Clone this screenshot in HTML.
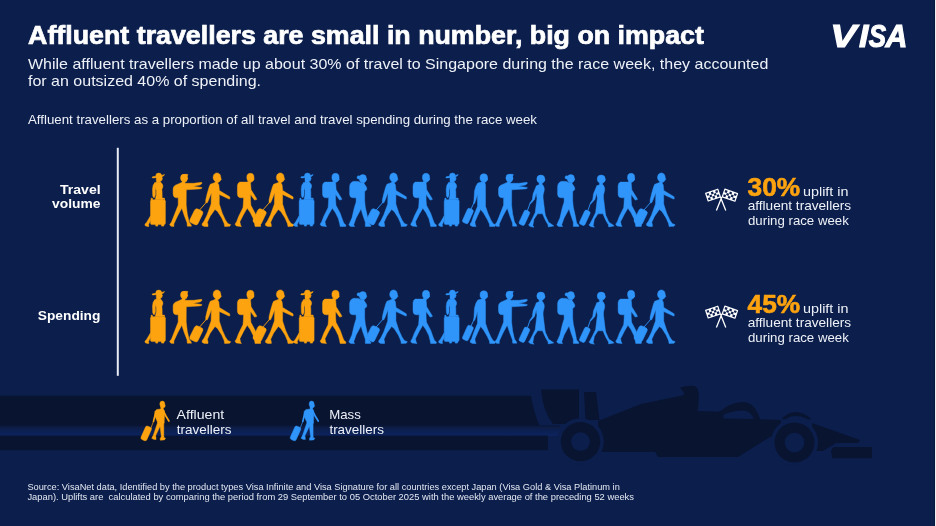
<!DOCTYPE html>
<html><head><meta charset="utf-8"><title>Affluent travellers</title>
<style>
html,body{margin:0;padding:0;background:#0b1e4c;overflow:hidden}
svg{display:block}
text{font-family:"Liberation Sans",Arial,sans-serif}
</style></head>
<body>
<svg width="936" height="526" viewBox="0 0 936 526">
<defs>

<g id="fA">
 <path d="M-3,4.4 Q-3,1 0,1 Q3,1 3,4 Z"/>
 <path d="M-6.6,5.7 Q-6.8,4.7 -5.3,4.6 L-3.2,4.3 L2.8,3.4 Q4.6,2.9 5.8,2.4 Q5.7,3.5 4.3,4.3 L2.8,5 L-3.2,5.7 Q-5.6,6.2 -6.6,5.7 Z"/>
 <path d="M-2.4,4.5 L3.2,4.5 L3.4,6 L3.9,6.9 L3.3,7.4 L3.2,8.5 L1.8,9 L1.8,10.8 L-2.2,10.8 L-2.4,8.5 Z"/>
 <path d="M-3.9,10.5 L2.4,10.5 Q4.3,12.5 4.2,14.5 Q4,16 3.2,17.2 L3.4,20 L3.5,27.8 L-3.5,27.8 L-2.4,23 L-2.4,18.5 L-3.6,14 Z"/>
 <path d="M-3.9,10.8 Q-6.4,13 -6.2,17 L-6,23.6 Q-5.6,25.8 -4.4,25.8 L-3.3,23 L-3.3,18.5 L-2.8,14 Z"/>
 <rect x="-8.2" y="27.7" width="14.9" height="24.9" rx="1.5"/>
 <rect x="-7.6" y="26.1" width="1.3" height="2"/>
 <path d="M3.4,26.1 H5.8 V27.9 H5.1 V27.1 H3.9 V27.9 H3.4 Z"/>
 <rect x="-3" y="52" width="2.1" height="2.1"/>
 <rect x="2.8" y="52" width="2.4" height="2.1"/>
 <path d="M-8.2,43.8 L-12,50.2 L-13.8,52.2 L-13.5,53.7 L-11.5,54.4 L-9.8,54.4 L-10.1,52.4 L-8.2,48.6 Z"/>
</g>
<g id="fB">
 <ellipse cx="-0.4" cy="6" rx="3.5" ry="3.7"/>
 <path d="M-3.2,3.4 Q-1,2 2,2.3 L3.6,2.4 L2.8,4.4 Z"/>
 <path d="M-2,9.6 L1.9,9.6 L2.4,8 L3.3,6.4 L2.4,5 Z"/>
 <path d="M-2.7,10.4 L-9,13.2 Q-11.3,14.4 -11.3,17 L-11.3,21.8 Q-11.3,25.8 -7.8,25.8 L-6.2,25.8 L-6.2,33.1 L-10.5,44 L-12.9,50.1 L-14.8,52.6 L-13.5,54.2 L-10.5,54.4 L-10.5,52 L-6.8,44 L-2.6,36.2 L0,44 L2.6,50.7 L2.9,54.2 L7.1,54.2 L6.5,52.6 L4.7,50.1 L2.9,42.2 L1.8,33 L1.9,17.8 L15.5,16.9 L17.3,16.4 L17.5,15.6 L15.6,15.2 L8.6,14.3 L15.6,12.9 L17.5,11.6 L17.3,10.3 L9.3,11.3 L0.7,11.3 L0.7,9.3 L-2.1,9.3 Z"/>
</g>
<g id="fC">
 <ellipse cx="-0.35" cy="5.4" rx="3.85" ry="4.5"/>
 <path d="M-1,9.6 L1.5,10.3 L3,8.8 L3.5,8 L4.1,7.4 L3.4,5.8 Z"/>
 <path d="M-2.2,10.4 L-7,12.3 L-8.2,15.1 L-10.2,22 L-11.6,28 L-11.6,30.8 L-10,30.8 L-8.7,28 L-5.9,20.8 L-6.2,32 L-10.2,43 L-13.2,49.1 L-15.3,52.1 L-15,53.5 L-13,54.4 L-9.3,54.5 L-9.3,52.7 L-9.9,50.3 L-7.1,44.2 L-2.3,37.5 L0.2,39.4 L4.4,46 L6.8,51.5 L7.4,54.6 L12.3,54.3 L13.5,52.7 L10.5,51.5 L8.1,47.9 L5,41.2 L2,32 L2,22.5 L11.8,27.1 L12.6,26.8 L12.4,24.8 L2.1,18.5 L1.5,12.8 L0.4,11.1 L0.95,9.6 L-2.2,9.6 Z"/>
 <rect x="-4.5" y="-7.7" width="9" height="15.4" rx="2.5" transform="translate(-21,44.8) rotate(26)"/>
 <path d="M-17.6,37.9 L-10.9,30.2" fill="none" stroke="currentColor" stroke-linecap="round" stroke-linejoin="round" stroke-width="0.9"/>
</g>
<g id="fD">
 <ellipse cx="0.1" cy="5.5" rx="3.6" ry="4.2"/>
 <path d="M-1,9.2 L1.5,9.8 L3,8.5 L3.7,7.3 L3.1,5.8 Z"/>
 <path d="M-2.6,10.1 L-10.6,10.1 Q-12.9,11 -12.9,14 L-12.9,21.8 Q-12.9,25.8 -9.5,25.8 L-6.7,25.8 L-7,32 L-7.35,35.7 L-11.6,44.2 L-13.7,49.7 L-15.3,52.2 L-14,54 L-8.9,54.6 L-9.8,52.8 L-10.4,49.7 L-6.7,42.4 L-3.1,36.3 L-0.05,40.6 L3,46.7 L4.2,51.5 L4.8,54.6 L10.3,54.4 L10.5,53 L8.5,51.3 L7.2,47.9 L4.8,41.2 L0.6,33.3 L0.2,28 L0.2,22.4 L4.2,28.1 L6.4,27.6 L6.2,26.4 L0.8,17.8 L0.2,10.4 L0.8,10.4 L0.8,9.3 L-2.6,9.3 Z"/>
</g>
<g id="fE">
 <ellipse cx="-0.2" cy="6.5" rx="3.6" ry="3.9"/>
 <circle cx="-4.3" cy="5.4" r="1.7"/>
 <path d="M-1,10 L1.2,10.4 L2.8,9 L3.7,7.6 L3,6.2 Z"/>
 <path d="M-2.3,10.6 L-4.6,9.4 L-9.2,9.3 Q-13.4,10.5 -13.4,15 L-13.4,22 Q-13.4,25.8 -10,25.8 L-6.9,25.8 L-6.9,30 L-8.7,35.7 L-11.1,46.1 L-13.6,51.6 L-14.2,53 L-12.3,54.6 L-8.4,54.6 L-9.3,52.8 L-6.9,46.1 L-2,37 L-0.2,43 L2.3,50.3 L2.3,54.4 L7.8,54.4 L7.8,53.2 L5.6,51 L5.3,49.1 L4.1,43 L2.3,35.1 L1.7,29 L1.7,19.5 L3.7,17.8 L3.7,15.5 L1.1,11.6 L1.1,10.6 Z"/>
</g>
<g id="fF">
 <ellipse cx="0.2" cy="7" rx="4" ry="4"/>
 <path d="M1,10 L2.8,10.2 L4,8.8 L4.4,7.6 L3.6,6.6 Z"/>
 <path d="M-1.5,10.4 L-1.5,12.7 L-4.3,13.8 L-4.9,15.5 L-7.5,21.8 L-8.3,27.5 L-10.8,31.2 L-10,31.8 L-6.05,27.5 L-4.3,20.7 L-4.05,24 L-3.6,26 L-5.4,40.6 L-8.4,46.7 L-10.9,51.5 L-12.1,53.1 L-10.3,54.6 L-6.6,55.2 L-7.8,53.4 L-6.6,47.3 L-3,41.8 L1.9,41.8 L4.9,48.5 L7.4,52.8 L7.7,54.9 L13.2,53.9 L11,52.2 L8,50.3 L4.9,43.6 L4.3,40.6 L2.5,26 L2.5,23 L3.65,18.4 L3.65,16 L2.5,13.3 L1.65,12.7 L1.65,10.4 Z"/>
 <rect x="-3.0" y="-7.7" width="6" height="15.4" rx="1.8" transform="translate(-16.2,45.8) rotate(25)"/>
 <path d="M-10.5,31.2 L-13.1,38.5" fill="none" stroke="currentColor" stroke-linecap="round" stroke-linejoin="round" stroke-width="0.9"/>
</g>
<g id="fG">
 <ellipse cx="0.3" cy="5.9" rx="3.8" ry="4.1"/>
 <path d="M-1,9.6 L1.5,10.2 L3.2,8.8 L4.2,7.6 L3.4,6 Z"/>
 <path d="M-2,10 L-5.7,11.1 L-7.5,14 L-9,19 L-9.6,29 L-10.2,31.2 L-9,31.6 L-7.6,28 L-6,22 L-6,34.3 L-10,44 L-12,50 L-13.4,52 L-13,53.6 L-11,54.4 L-7.4,54.6 L-8.2,52.6 L-8.6,50 L-6,44 L-2.9,37.6 L0,41 L3.8,47.5 L5.9,52 L6.2,54.6 L11.5,54.4 L12,53 L9.5,51.5 L7.4,48 L4.5,41.5 L2,34.3 L2,13 L1.5,11.1 L1.2,10 Z"/>
 <rect x="-3.2" y="-7.7" width="6.4" height="15.4" rx="1.9" transform="translate(-15.6,44) rotate(24)"/>
 <path d="M-12.4,37 L-9.8,31.2" fill="none" stroke="currentColor" stroke-linecap="round" stroke-linejoin="round" stroke-width="0.9"/>
</g>
<g id="fL">
 <ellipse cx="0" cy="4.1" rx="2.5" ry="3.1"/>
 <path d="M-1.6,6 L2.6,4.6 L3,5.8 L2.2,7.4 L-1.2,8 Z"/>
 <rect x="-1.5" y="6.6" width="2.5" height="3"/>
 <path d="M-5.6,9.4 L0.8,8.8 L2,10.5 L2.2,16 L1.9,23.2 L-4.3,23.2 L-6.2,19 L-7.9,15 L-7.4,11.4 Z"/>
 <path d="M1,10.8 L3.6,16 L6.6,21" fill="none" stroke="currentColor" stroke-linecap="round" stroke-linejoin="round" stroke-width="1.7"/>
 <path d="M-5.6,11.5 L-7.6,16.5 L-8.8,21.4" fill="none" stroke="currentColor" stroke-linecap="round" stroke-linejoin="round" stroke-width="1.7"/>
 <path d="M-8.8,21.4 L-11.2,27.6" fill="none" stroke="currentColor" stroke-linecap="round" stroke-linejoin="round" stroke-width="0.7"/>
 <rect x="-3.2" y="-7.3" width="6.4" height="14.6" rx="1.8" transform="translate(-16.1,33.4) rotate(24)"/>
 <path d="M-4.46,21.75 L-9.27,35.97 L-7.13,36.83 L-0.74,23.25 Z M-9.5,35.9 L-10,37 L-10.6,38.3 L-8.4,39.4 L-6.2,39.5 L-6.4,36.8 L-6.9,35.9 Z M-2.7,22.63 L-0.95,37.08 L1.55,36.92 L1.5,22.37 Z M-1,36.8 L-2.1,38.2 L-2.1,40.2 L2.1,39.9 L3.3,38.3 L0.8,37.1 L1.6,36.6 Z"/>
</g>

</defs>
<rect width="936" height="526" fill="#0b1e4c"/>
<!-- STRIPES + CAR -->
<linearGradient id="sg" x1="0" y1="0" x2="0" y2="1"><stop offset="0" stop-color="#0a1535"/><stop offset="0.2" stop-color="#0e1d46"/><stop offset="0.45" stop-color="#0b1f4f"/><stop offset="1" stop-color="#0c235f"/></linearGradient>
<rect x="0" y="425.4" width="560" height="10.4" fill="url(#sg)"/>
<g fill="#091431">
  <path d="M0,395.8 H531 Q534,414 539.5,425.4 H0 Z"/>
  <rect x="0" y="435.7" width="548" height="14.5"/>
  <path d="M541,389.5 H579 V424 H553 Q543,412 541,389.5 Z"/>
  <path d="M584,392 H596 L599.5,420 H585.5 Z"/>
  <path d="M598,421 L641,404 L683.5,395.2 L684,392.6 L679.8,387.6 Q686,385.4 694.6,385.9 Q699,387.5 698.8,397 L698.3,406.6 L697.5,411 L722,411.8 L724,418.5 L756,419 L781,420 L781,437 L770,437 L738,457 L658,457 L655,452 L598,452 Z"/>
  <path d="M718,413 Q731,401.5 744,402 Q755,403 760,419 L754,419.5 Q751,411 743,410.6 Q732,410.6 722,415.5 Z"/>
  <path d="M812,423 L860,440 L858,443 L836,443 L823,451 L812,451 Z"/>
  <path d="M833.5,447 H872 V458.3 H832.5 L831,451 Z"/>
</g>

<circle cx="580.5" cy="441.6" r="23.3" fill="#0b1e4c"/>
<circle cx="794.5" cy="442.5" r="23.6" fill="#0b1e4c"/>
<g fill="#091431">
  <circle cx="580.5" cy="441.6" r="19.7"/>
  <circle cx="794.5" cy="442.5" r="20"/>
  <path d="M781.5,419 Q795,405 811.5,419 L808,419.4 Q795,412.5 785,419.4 Z"/>
</g>
<g fill="#0b1e4c">
  <circle cx="580.5" cy="441.6" r="9.4"/>
  <circle cx="794.5" cy="442.5" r="9.8"/>
</g>
<use href="#fA" transform="translate(158.7,172)" fill="#fca30f" color="#fca30f" stroke="#fca30f" stroke-width="0.45" stroke-linejoin="round"/>
<use href="#fB" transform="translate(184.4,172)" fill="#fca30f" color="#fca30f" stroke="#fca30f" stroke-width="0.45" stroke-linejoin="round"/>
<use href="#fC" transform="translate(217.3,172)" fill="#fca30f" color="#fca30f" stroke="#fca30f" stroke-width="0.45" stroke-linejoin="round"/>
<use href="#fD" transform="translate(250.3,172)" fill="#fca30f" color="#fca30f" stroke="#fca30f" stroke-width="0.45" stroke-linejoin="round"/>
<use href="#fC" transform="translate(280.6,172)" fill="#fca30f" color="#fca30f" stroke="#fca30f" stroke-width="0.45" stroke-linejoin="round"/>
<use href="#fA" transform="translate(307.4,172)" fill="#2f95fb" color="#2f95fb" stroke="#2f95fb" stroke-width="0.45" stroke-linejoin="round"/>
<use href="#fD" transform="translate(335.4,172)" fill="#2f95fb" color="#2f95fb" stroke="#2f95fb" stroke-width="0.45" stroke-linejoin="round"/>
<use href="#fE" transform="translate(363,172)" fill="#2f95fb" color="#2f95fb" stroke="#2f95fb" stroke-width="0.45" stroke-linejoin="round"/>
<use href="#fC" transform="translate(393.9,172)" fill="#2f95fb" color="#2f95fb" stroke="#2f95fb" stroke-width="0.45" stroke-linejoin="round"/>
<use href="#fD" transform="translate(425.9,172)" fill="#2f95fb" color="#2f95fb" stroke="#2f95fb" stroke-width="0.45" stroke-linejoin="round"/>
<use href="#fA" transform="translate(452.4,172)" fill="#2f95fb" color="#2f95fb" stroke="#2f95fb" stroke-width="0.45" stroke-linejoin="round"/>
<use href="#fG" transform="translate(483.5,172)" fill="#2f95fb" color="#2f95fb" stroke="#2f95fb" stroke-width="0.45" stroke-linejoin="round"/>
<use href="#fB" transform="translate(509.8,172)" fill="#2f95fb" color="#2f95fb" stroke="#2f95fb" stroke-width="0.45" stroke-linejoin="round"/>
<use href="#fF" transform="translate(540.6,172)" fill="#2f95fb" color="#2f95fb" stroke="#2f95fb" stroke-width="0.45" stroke-linejoin="round"/>
<use href="#fE" transform="translate(571,172)" fill="#2f95fb" color="#2f95fb" stroke="#2f95fb" stroke-width="0.45" stroke-linejoin="round"/>
<use href="#fF" transform="translate(601,172)" fill="#2f95fb" color="#2f95fb" stroke="#2f95fb" stroke-width="0.45" stroke-linejoin="round"/>
<use href="#fD" transform="translate(631,172)" fill="#2f95fb" color="#2f95fb" stroke="#2f95fb" stroke-width="0.45" stroke-linejoin="round"/>
<use href="#fC" transform="translate(661.7,172)" fill="#2f95fb" color="#2f95fb" stroke="#2f95fb" stroke-width="0.45" stroke-linejoin="round"/>
<use href="#fA" transform="translate(158.7,289)" fill="#fca30f" color="#fca30f" stroke="#fca30f" stroke-width="0.45" stroke-linejoin="round"/>
<use href="#fB" transform="translate(184.4,289)" fill="#fca30f" color="#fca30f" stroke="#fca30f" stroke-width="0.45" stroke-linejoin="round"/>
<use href="#fC" transform="translate(217.3,289)" fill="#fca30f" color="#fca30f" stroke="#fca30f" stroke-width="0.45" stroke-linejoin="round"/>
<use href="#fD" transform="translate(250.3,289)" fill="#fca30f" color="#fca30f" stroke="#fca30f" stroke-width="0.45" stroke-linejoin="round"/>
<use href="#fC" transform="translate(280.6,289)" fill="#fca30f" color="#fca30f" stroke="#fca30f" stroke-width="0.45" stroke-linejoin="round"/>
<use href="#fA" transform="translate(307.4,289)" fill="#fca30f" color="#fca30f" stroke="#fca30f" stroke-width="0.45" stroke-linejoin="round"/>
<use href="#fD" transform="translate(335.4,289)" fill="#fca30f" color="#fca30f" stroke="#fca30f" stroke-width="0.45" stroke-linejoin="round"/>
<use href="#fE" transform="translate(363,289)" fill="#2f95fb" color="#2f95fb" stroke="#2f95fb" stroke-width="0.45" stroke-linejoin="round"/>
<use href="#fC" transform="translate(393.9,289)" fill="#2f95fb" color="#2f95fb" stroke="#2f95fb" stroke-width="0.45" stroke-linejoin="round"/>
<use href="#fD" transform="translate(425.9,289)" fill="#2f95fb" color="#2f95fb" stroke="#2f95fb" stroke-width="0.45" stroke-linejoin="round"/>
<use href="#fA" transform="translate(452.4,289)" fill="#2f95fb" color="#2f95fb" stroke="#2f95fb" stroke-width="0.45" stroke-linejoin="round"/>
<use href="#fG" transform="translate(483.5,289)" fill="#2f95fb" color="#2f95fb" stroke="#2f95fb" stroke-width="0.45" stroke-linejoin="round"/>
<use href="#fB" transform="translate(509.8,289)" fill="#2f95fb" color="#2f95fb" stroke="#2f95fb" stroke-width="0.45" stroke-linejoin="round"/>
<use href="#fF" transform="translate(540.6,289)" fill="#2f95fb" color="#2f95fb" stroke="#2f95fb" stroke-width="0.45" stroke-linejoin="round"/>
<use href="#fE" transform="translate(571,289)" fill="#2f95fb" color="#2f95fb" stroke="#2f95fb" stroke-width="0.45" stroke-linejoin="round"/>
<use href="#fF" transform="translate(601,289)" fill="#2f95fb" color="#2f95fb" stroke="#2f95fb" stroke-width="0.45" stroke-linejoin="round"/>
<use href="#fD" transform="translate(631,289)" fill="#2f95fb" color="#2f95fb" stroke="#2f95fb" stroke-width="0.45" stroke-linejoin="round"/>
<use href="#fC" transform="translate(661.7,289)" fill="#2f95fb" color="#2f95fb" stroke="#2f95fb" stroke-width="0.45" stroke-linejoin="round"/>
<use href="#fL" transform="translate(162.3,400)" fill="#fca30f" color="#fca30f" stroke="#fca30f" stroke-width="0.4" stroke-linejoin="round"/>
<use href="#fL" transform="translate(311.6,400)" fill="#2f95fb" color="#2f95fb" stroke="#2f95fb" stroke-width="0.4" stroke-linejoin="round"/>
<!-- TEXT -->
<text x="28.1" y="43.9" font-size="25" font-weight="700" fill="#fff" stroke="#fff" stroke-width="0.7" textLength="675.8" lengthAdjust="spacingAndGlyphs">Affluent travellers are small in number, big on impact</text>
<text x="28" y="68.5" font-size="14.2" fill="#eef1f7" textLength="740.3" lengthAdjust="spacingAndGlyphs">While affluent travellers made up about 30% of travel to Singapore during the race week, they accounted</text>
<text x="28" y="85.8" font-size="14.2" fill="#eef1f7" textLength="233" lengthAdjust="spacingAndGlyphs">for an outsized 40% of spending.</text>
<text x="28" y="123.6" font-size="12.4" fill="#eef1f7" textLength="509" lengthAdjust="spacingAndGlyphs">Affluent travellers as a proportion of all travel and travel spending during the race week</text>
<!-- VISA -->
<text y="47" font-size="32" font-weight="700" font-style="italic" fill="#fff" stroke="#fff" stroke-width="1.1"><tspan x="830.2" textLength="26.2" lengthAdjust="spacingAndGlyphs">V</tspan><tspan x="859" textLength="9.4" lengthAdjust="spacingAndGlyphs">I</tspan><tspan x="868.8" textLength="17.3" lengthAdjust="spacingAndGlyphs">S</tspan><tspan x="885.4" textLength="21.9" lengthAdjust="spacingAndGlyphs">A</tspan></text>
<!-- axis -->
<rect x="116.8" y="147.8" width="2" height="228" fill="#e8ecf4"/>
<text x="60" y="193.6" font-size="13.6" font-weight="700" fill="#fff" textLength="40.6" lengthAdjust="spacingAndGlyphs">Travel</text>
<text x="52" y="207.9" font-size="13.6" font-weight="700" fill="#fff" textLength="48.4" lengthAdjust="spacingAndGlyphs">volume</text>
<text x="37.8" y="319.5" font-size="13.6" font-weight="700" fill="#fff" textLength="62.6" lengthAdjust="spacingAndGlyphs">Spending</text>
<!-- stats -->
<text x="747.6" y="195.6" font-size="25" font-weight="700" fill="#fca30f" stroke="#fca30f" stroke-width="0.6" textLength="52.6" lengthAdjust="spacingAndGlyphs">30%</text>
<text x="803" y="195.6" font-size="13.4" fill="#eef1f7" textLength="45.5" lengthAdjust="spacingAndGlyphs">uplift in</text>
<text x="747.7" y="210.4" font-size="13.4" fill="#eef1f7" textLength="103.4" lengthAdjust="spacingAndGlyphs">affluent travellers</text>
<text x="748" y="224.6" font-size="13.4" fill="#eef1f7" textLength="100.8" lengthAdjust="spacingAndGlyphs">during race week</text>
<text x="747.6" y="312.6" font-size="25" font-weight="700" fill="#fca30f" stroke="#fca30f" stroke-width="0.6" textLength="52.6" lengthAdjust="spacingAndGlyphs">45%</text>
<text x="803" y="312.6" font-size="13.4" fill="#eef1f7" textLength="45.5" lengthAdjust="spacingAndGlyphs">uplift in</text>
<text x="747.7" y="327.4" font-size="13.4" fill="#eef1f7" textLength="103.4" lengthAdjust="spacingAndGlyphs">affluent travellers</text>
<text x="748" y="341.6" font-size="13.4" fill="#eef1f7" textLength="100.8" lengthAdjust="spacingAndGlyphs">during race week</text>

<g id="flags" fill="#fff">
 <g transform="translate(713,195.1) rotate(-18.7)">
  <rect x="-7" y="-4.65" width="14" height="9.3" rx="0.6"/>
  <g fill="#0b1e4c"><rect x="-5.75" y="-3.40" width="2.30" height="2.27"/><rect x="-1.15" y="-3.40" width="2.30" height="2.27"/><rect x="3.45" y="-3.40" width="2.30" height="2.27"/><rect x="-3.45" y="-1.13" width="2.30" height="2.27"/><rect x="1.15" y="-1.13" width="2.30" height="2.27"/><rect x="-5.75" y="1.13" width="2.30" height="2.27"/><rect x="-1.15" y="1.13" width="2.30" height="2.27"/><rect x="3.45" y="1.13" width="2.30" height="2.27"/></g>
 </g>
 <g transform="translate(729.9,195.2) rotate(19)">
  <rect x="-7.3" y="-4.65" width="14.6" height="9.3" rx="0.6"/>
  <g fill="#0b1e4c"><rect x="-6.05" y="-3.40" width="2.42" height="2.27"/><rect x="-1.21" y="-3.40" width="2.42" height="2.27"/><rect x="3.63" y="-3.40" width="2.42" height="2.27"/><rect x="-3.63" y="-1.13" width="2.42" height="2.27"/><rect x="1.21" y="-1.13" width="2.42" height="2.27"/><rect x="-6.05" y="1.13" width="2.42" height="2.27"/><rect x="-1.21" y="1.13" width="2.42" height="2.27"/><rect x="3.63" y="1.13" width="2.42" height="2.27"/></g>
 </g>
 <path d="M716.4,210.6 L721.8,197 M725.8,210.6 L720.4,197" stroke="#fff" stroke-width="1.3" fill="none"/>
</g>
<use href="#flags" y="117"/>
<!-- legend -->
<text x="176.6" y="418.7" font-size="12.6" fill="#eef1f7" textLength="47.6" lengthAdjust="spacingAndGlyphs">Affluent</text>
<text x="176.8" y="433.5" font-size="12.6" fill="#eef1f7" textLength="54.6" lengthAdjust="spacingAndGlyphs">travellers</text>
<text x="329.2" y="418.7" font-size="12.6" fill="#eef1f7" textLength="31.6" lengthAdjust="spacingAndGlyphs">Mass</text>
<text x="329.4" y="433.5" font-size="12.6" fill="#eef1f7" textLength="54.6" lengthAdjust="spacingAndGlyphs">travellers</text>
<!-- footer -->
<text x="27.4" y="489.7" font-size="8.2" fill="#e4e8f2" textLength="592.4" lengthAdjust="spacingAndGlyphs">Source: VisaNet data, Identified by the product types Visa Infinite and Visa Signature for all countries except Japan (Visa Gold &amp; Visa Platinum in</text>
<text x="27.4" y="500.3" font-size="8.2" fill="#e4e8f2" textLength="606.6" lengthAdjust="spacingAndGlyphs" xml:space="preserve">Japan). Uplifts are  calculated by comparing the period from 29 September to 05 October 2025 with the weekly average of the preceding 52 weeks</text>
<rect x="934" y="0" width="1" height="526" fill="#09183f"/>
<rect x="935" y="0" width="1" height="526" fill="#eceef2"/>
</svg>
</body></html>
